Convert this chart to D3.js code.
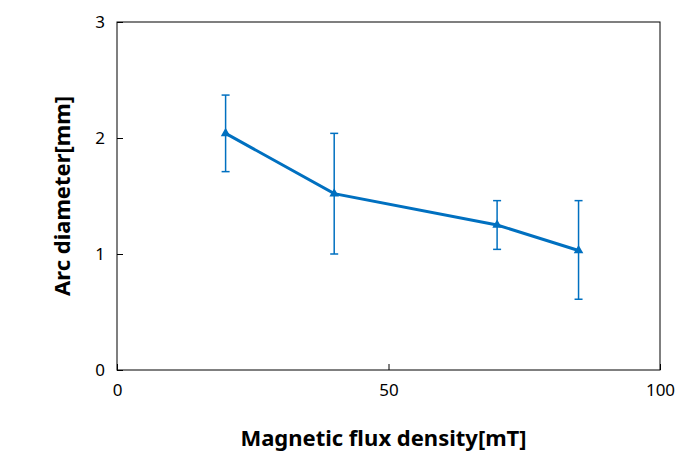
<!DOCTYPE html>
<html><head><meta charset="utf-8">
<script src="https://cdn.jsdelivr.net/npm/d3@7"></script>
<style>body{margin:0;background:#fff}text{font-family:"Noto Sans","Open Sans",sans-serif}</style>
</head><body><svg id="c" width="696" height="454"></svg>
<script>
const fluxValues=[20,40,70,85];
const arcDiameter=[2.04,1.52,1.25,1.03];
const errLow=[1.71,1.00,1.04,0.61];
const errHigh=[2.37,2.04,1.46,1.46];
const xTicks=[0,50,100];
const yTicks=[0,1,2,3];
const svg=d3.select("#c");
const L=117,R=660,T=22,B=370;
const x=d3.scaleLinear().domain([0,100]).range([L,R]);
const y=d3.scaleLinear().domain([0,3]).range([B,T]);
const col="#0070C0";
svg.append("rect").attr("x",L).attr("y",T).attr("width",R-L).attr("height",B-T).attr("fill","none").attr("stroke","#000").attr("stroke-width",1);
svg.append("g").attr("transform",`translate(0,${B})`).call(d3.axisBottom(x).tickValues(xTicks).tickSize(-6).tickPadding(14).tickFormat(d3.format("d")))
 .call(g=>{g.select(".domain").remove();g.selectAll("text").attr("font-size",17).attr("fill","#000");});
svg.append("g").attr("transform",`translate(${L},0)`).call(d3.axisLeft(y).tickValues(yTicks).tickSize(-6).tickPadding(12).tickFormat(d3.format("d")))
 .call(g=>{g.select(".domain").remove();g.selectAll("text").attr("font-size",17).attr("fill","#000");});
const data=fluxValues.map((v,i)=>({x:v,y:arcDiameter[i],lo:errLow[i],hi:errHigh[i]}));
const eg=svg.append("g").attr("stroke",col).attr("stroke-width",1.5);
data.forEach(d=>{
 eg.append("line").attr("x1",x(d.x)).attr("x2",x(d.x)).attr("y1",y(d.lo)).attr("y2",y(d.hi));
 [d.lo,d.hi].forEach(v=>eg.append("line").attr("x1",x(d.x)-4).attr("x2",x(d.x)+4).attr("y1",y(v)).attr("y2",y(v)));
});
svg.append("path").datum(data).attr("fill","none").attr("stroke",col).attr("stroke-width",3)
 .attr("d",d3.line().x(d=>x(d.x)).y(d=>y(d.y)));
svg.selectAll(".m").data(data).join("path").attr("fill",col)
 .attr("transform",d=>`translate(${x(d.x)},${y(d.y)})`).attr("d",d3.symbol(d3.symbolTriangle,40));
svg.append("text").attr("x",(L+R)/2-5).attr("y",446).attr("text-anchor","middle").attr("font-size",22).attr("font-weight","bold").text("Magnetic flux density[mT]");
svg.append("text").attr("transform",`translate(70,${(T+B)/2}) rotate(-90)`).attr("text-anchor","middle").attr("font-size",22).attr("font-weight","bold").text("Arc diameter[mm]");
</script></body></html>
